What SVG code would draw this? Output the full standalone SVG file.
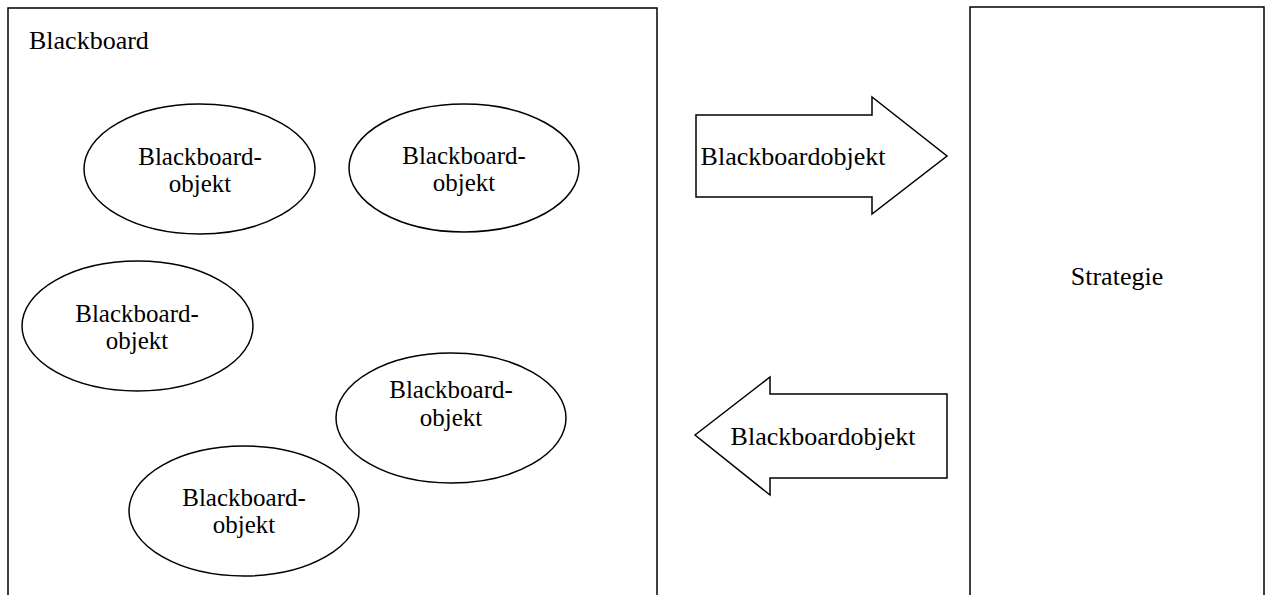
<svg xmlns="http://www.w3.org/2000/svg" width="1266" height="595" viewBox="0 0 1266 595">
<style>
.shape{fill:#fff;stroke:#000;stroke-width:1.5}
.lbl{font-family:"Liberation Serif","Times New Roman",serif;font-size:26px;fill:#000}
.obj{font-size:25px}
.c{text-anchor:middle}
</style>
<rect width="1266" height="595" fill="#fff"/>
<g id="blackboard">
<rect class="shape" x="8" y="8" width="649" height="600"/>
<text class="lbl" x="29" y="49">Blackboard</text>
</g>
<g id="strategie">
<rect class="shape" x="970" y="7" width="294" height="600"/>
<text class="lbl c" x="1117" y="285">Strategie</text>
</g>
<g id="obj1">
<ellipse class="shape" cx="199.5" cy="169" rx="115.5" ry="65"/>
<text class="lbl obj c" x="200" y="164.5">Blackboard-</text>
<text class="lbl obj c" x="200" y="191.5">objekt</text>
</g>
<g id="obj2">
<ellipse class="shape" cx="464" cy="168" rx="115" ry="64"/>
<text class="lbl obj c" x="464" y="163.5">Blackboard-</text>
<text class="lbl obj c" x="464" y="190.5">objekt</text>
</g>
<g id="obj3">
<ellipse class="shape" cx="137.5" cy="326" rx="115.5" ry="65"/>
<text class="lbl obj c" x="137" y="321.5">Blackboard-</text>
<text class="lbl obj c" x="137" y="348.5">objekt</text>
</g>
<g id="obj4">
<ellipse class="shape" cx="451" cy="418" rx="115" ry="65"/>
<text class="lbl obj c" x="451" y="397.5">Blackboard-</text>
<text class="lbl obj c" x="451" y="426">objekt</text>
</g>
<g id="obj5">
<ellipse class="shape" cx="244" cy="511" rx="115" ry="65"/>
<text class="lbl obj c" x="244" y="505.5">Blackboard-</text>
<text class="lbl obj c" x="244" y="532.5">objekt</text>
</g>
<g id="connectors">
<g id="arrow-right">
<polygon class="shape" points="696,115 872,115 872,97 947,156 872,214 872,197 696,197"/>
<text class="lbl c" x="793" y="165">Blackboardobjekt</text>
</g>
<g id="arrow-left">
<polygon class="shape" points="695,435 770,377 770,394 947,394 947,478 770,478 770,495"/>
<text class="lbl c" x="823" y="445">Blackboardobjekt</text>
</g>
</g>
</svg>
